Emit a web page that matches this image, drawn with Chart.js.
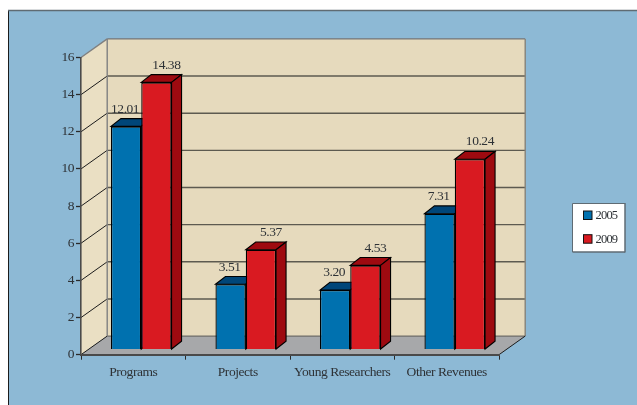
<!DOCTYPE html>
<html>
<head>
<meta charset="utf-8">
<style>html,body{margin:0;padding:0;background:#fff}canvas{display:block}</style>
<script src="https://cdn.jsdelivr.net/npm/chart.js@4"></script>
</head>
<body>
<div style="width:637px;height:405px"><canvas id="c" width="637" height="405"></canvas></div>
<script>
const categories = ['Programs', 'Projects', 'Young Researchers', 'Other Revenues'];
const seriesNames = ['2005', '2009'];
const values2005 = [12.01, 3.51, 3.20, 7.31];
const values2009 = [14.38, 5.37, 4.53, 10.24];
const valueLabels2005 = ['12.01', '3.51', '3.20', '7.31'];
const valueLabels2009 = ['14.38', '5.37', '4.53', '10.24'];
const frontColors = ['#0071AF', '#D91A21'];
const shadeColors = ['#004679', '#9E0A10'];
const FONT = '"Liberation Serif", serif';
const TEXT = '#2e3236';
const TRACK = '-0.45px';
const WALL = {dx: 26.2, dy: -18.6};
const BAR_SHIFT = {dx: 8.0, dy: -5.2};
const BAR_DEPTH = {dx: 10, dy: -7.8};
const labelShift = [-1, 10];

function poly(ctx, pts, fill, stroke, lw) {
  ctx.beginPath();
  pts.forEach((p, i) => i ? ctx.lineTo(p[0], p[1]) : ctx.moveTo(p[0], p[1]));
  ctx.closePath();
  if (fill) { ctx.fillStyle = fill; ctx.fill(); }
  if (stroke) { ctx.strokeStyle = stroke; ctx.lineWidth = lw; ctx.stroke(); }
}
function line(ctx, x1, y1, x2, y2, color, lw) {
  ctx.beginPath(); ctx.moveTo(x1, y1); ctx.lineTo(x2, y2);
  ctx.strokeStyle = color; ctx.lineWidth = lw; ctx.stroke();
}

const scene = {
  id: 'scene',
  beforeLayout(chart) { chart.ctx.letterSpacing = TRACK; },
  beforeDraw(chart) {
    const {ctx, scales: {x, y}, width, height} = chart;
    ctx.letterSpacing = TRACK;
    const l = x.left, r = x.right, t = y.top, b = y.bottom;
    const dx = WALL.dx, dy = WALL.dy;
    ctx.save();
    ctx.fillStyle = '#fff'; ctx.fillRect(0, 0, width, height);
    ctx.fillStyle = '#8DB9D5'; ctx.fillRect(8.5, 10.5, width, height);
    line(ctx, 8.5, 10, 8.5, height, '#1c1c1c', 1);
    line(ctx, 8, 10.5, width, 10.5, '#5f6b73', 1.5);
    // side wall, back wall, floor
    poly(ctx, [[l, t], [l + dx, t + dy], [l + dx, b + dy], [l, b]], '#EADFC3');
    poly(ctx, [[l + dx, t + dy], [r + dx, t + dy], [r + dx, b + dy], [l + dx, b + dy]], '#E6DABD');
    poly(ctx, [[l, b], [l + dx, b + dy], [r + dx, b + dy], [r, b]], '#A7A8AA');
    // gridlines from the value axis
    y.ticks.forEach(tk => {
      const py = y.getPixelForValue(tk.value);
      if (tk.value > 0 && tk.value < 16) {
        line(ctx, l + dx, py + dy, r + dx, py + dy, '#5d5a50', 1.4);
      }
      if (tk.value < 16) line(ctx, l, py, l + dx, py + dy, '#1c1c1c', 1);
    });
    // wall edges
    line(ctx, l, t, l + dx, t + dy, '#808080', 1.4);
    line(ctx, l + dx, t + dy, r + dx, t + dy, '#767676', 1.4);
    line(ctx, l + dx, t + dy, l + dx, b + dy, '#808080', 1.4);
    line(ctx, r + dx, t + dy, r + dx, b + dy, '#85827a', 1.4);
    line(ctx, l + dx, b + dy, r + dx, b + dy, '#6e6d68', 1.2);
    line(ctx, r, b, r + dx, b + dy, '#1c1c1c', 1);
    ctx.restore();
  },
  beforeDatasetsDraw(chart) {
    const {ctx} = chart;
    ctx.save();
    ctx.lineJoin = 'miter';
    [0, 1].forEach(di => {
      chart.getDatasetMeta(di).data.forEach(bar => {
        const x0 = bar.x - bar.width / 2 + BAR_SHIFT.dx, x1 = bar.x + bar.width / 2 + BAR_SHIFT.dx;
        const top = bar.y + BAR_SHIFT.dy, base = bar.base + BAR_SHIFT.dy;
        const d = BAR_DEPTH;
        poly(ctx, [[x0, top], [x0 + d.dx, top + d.dy], [x1 + d.dx, top + d.dy], [x1, top]], shadeColors[di], '#000', 1.1);
        poly(ctx, [[x1, top], [x1 + d.dx, top + d.dy], [x1 + d.dx, base + d.dy], [x1, base]], shadeColors[di], '#000', 1.1);
      });
    });
    ctx.restore();
  },
  beforeDatasetDraw(chart) {
    chart.ctx.save();
    chart.ctx.translate(BAR_SHIFT.dx, BAR_SHIFT.dy);
  },
  afterDatasetDraw(chart) {
    chart.ctx.restore();
  },
  afterDatasetsDraw(chart) {
    const {ctx} = chart;
    ctx.save();
    ctx.font = '13.5px ' + FONT;
    ctx.fillStyle = TEXT;
    ctx.textAlign = 'center';
    ctx.textBaseline = 'alphabetic';
    [valueLabels2005, valueLabels2009].forEach((labels, di) => {
      chart.getDatasetMeta(di).data.forEach((bar, i) => {
        ctx.fillText(labels[i], bar.x + BAR_SHIFT.dx + labelShift[di],
          bar.y + BAR_SHIFT.dy + BAR_DEPTH.dy - 6);
      });
    });
    // legend
    const bx = 572.5, by = 203.5, bw = 52.5, bh = 48.5;
    ctx.fillStyle = '#fff'; ctx.fillRect(bx, by, bw, bh);
    line(ctx, bx, by, bx + bw, by, '#5f6b73', 1);
    line(ctx, bx, by, bx, by + bh, '#5f6b73', 1);
    line(ctx, bx + bw, by - 0.5, bx + bw, by + bh + 0.5, '#5f6b73', 1.5);
    line(ctx, bx, by + bh, bx + bw, by + bh, '#5f6b73', 1.5);
    ctx.font = '12.5px ' + FONT;
    ctx.letterSpacing = '-0.8px';
    ctx.textAlign = 'left';
    ctx.textBaseline = 'middle';
    seriesNames.forEach((name, i) => {
      const sy = 211 + i * 23.7;
      ctx.fillStyle = frontColors[i];
      ctx.fillRect(583.5, sy, 8.5, 8.5);
      ctx.strokeStyle = '#111'; ctx.lineWidth = 1;
      ctx.strokeRect(583.5, sy, 8.5, 8.5);
      ctx.fillStyle = TEXT;
      ctx.fillText(name, 595.5, sy + 4.8);
    });
    ctx.restore();
  }
};

new Chart(document.getElementById('c'), {
  type: 'bar',
  data: {
    labels: categories,
    datasets: [
      {label: seriesNames[0], data: values2005, backgroundColor: frontColors[0], borderColor: '#000', borderWidth: 1.3, clip: false},
      {label: seriesNames[1], data: values2009, backgroundColor: frontColors[1], borderColor: '#000', borderWidth: 1.3, clip: false}
    ]
  },
  options: {
    responsive: false,
    animation: false,
    events: [],
    layout: {autoPadding: false, padding: {left: 0, top: 57.5, right: 138, bottom: 0}},
    categoryPercentage: 0.58,
    barPercentage: 1,
    plugins: {legend: {display: false}, title: {display: false}, tooltip: {enabled: false}},
    scales: {
      x: {
        afterFit(s) { s.height = 50.3; },
        grid: {drawOnChartArea: false, drawTicks: true, tickLength: 5, tickColor: '#2a2a2a', tickWidth: 1, offset: true},
        border: {display: true, color: '#4a4a4a', width: 2},
        ticks: {color: TEXT, font: {family: FONT, size: 13.5}, padding: 4.5, maxRotation: 0, autoSkip: false}
      },
      y: {
        min: 0, max: 16,
        afterFit(s) { s.width = 81; },
        grid: {drawOnChartArea: false, drawTicks: true, tickLength: 5, tickColor: '#2a2a2a', tickWidth: 1.3},
        border: {display: true, color: '#4a4a4a', width: 1.6},
        ticks: {stepSize: 2, color: TEXT, font: {family: FONT, size: 13.5}, padding: 2}
      }
    }
  },
  plugins: [scene]
});
</script>
</body>
</html>
